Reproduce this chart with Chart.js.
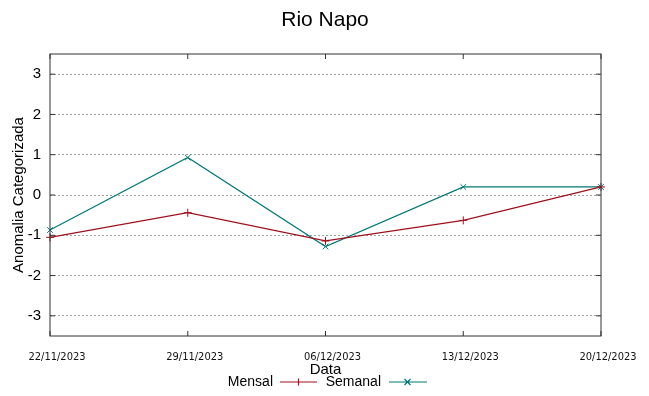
<!DOCTYPE html>
<html>
<head>
<meta charset="utf-8">
<script src="https://cdn.jsdelivr.net/npm/chart.js@4"></script>
<style>
  html, body { margin: 0; padding: 0; background: #fff; }
  #wrap { width: 649px; height: 396px; }
</style>
</head>
<body>
<div id="wrap"><canvas id="myChart"></canvas></div>
<script>
var labels = ['22/11/2023', '29/11/2023', '06/12/2023', '13/12/2023', '20/12/2023'];
var mensal = [-1.05, -0.44, -1.14, -0.63, 0.2];
var semanal = [-0.87, 0.93, -1.28, 0.2, 0.2];
var yTicks = [-3, -2, -1, 0, 1, 2, 3];

var RED = '#a0101c';
var TEAL = '#007878';
var FONT = "'Liberation Sans', Arial, sans-serif";
var NARROW = "'Liberation Sans Narrow', 'DejaVu Sans Condensed', sans-serif";

// titulo, moldura, marcas internas e legenda estilo gnuplot
var decor = {
  id: 'decor',
  afterDraw: function(chart) {
    var ctx = chart.ctx;
    var a = chart.chartArea;
    var xs = chart.scales.x, ys = chart.scales.y;
    ctx.save();
    ctx.fillStyle = '#000';
    ctx.font = '21px ' + FONT;
    ctx.textAlign = 'center';
    ctx.textBaseline = 'middle';
    ctx.fillText('Rio Napo', 325, 20);

    ctx.strokeStyle = '#333';
    ctx.lineWidth = 1;
    ctx.strokeRect(a.left, a.top, a.right - a.left, a.bottom - a.top);
    ctx.beginPath();
    for (var i = 0; i < labels.length; i++) {
      var px = xs.getPixelForValue(i);
      ctx.moveTo(px, a.bottom); ctx.lineTo(px, a.bottom - 5);
      ctx.moveTo(px, a.top); ctx.lineTo(px, a.top + 5);
    }
    yTicks.forEach(function(v) {
      var py = ys.getPixelForValue(v);
      ctx.moveTo(a.left, py); ctx.lineTo(a.left + 5, py);
      ctx.moveTo(a.right, py); ctx.lineTo(a.right - 5, py);
    });
    ctx.stroke();

    // legenda
    var ly = 382;
    ctx.font = '14px ' + FONT;
    ctx.textAlign = 'right';
    ctx.fillStyle = '#000';
    ctx.fillText('Mensal', 273, ly);
    ctx.fillText('Semanal', 381, ly);
    ctx.lineWidth = 1.2;
    ctx.strokeStyle = RED;
    ctx.beginPath();
    ctx.moveTo(280, ly); ctx.lineTo(317, ly);
    ctx.moveTo(298.5, ly - 3.5); ctx.lineTo(298.5, ly + 3.5);
    ctx.moveTo(295, ly); ctx.lineTo(302, ly);
    ctx.stroke();
    ctx.strokeStyle = TEAL;
    ctx.beginPath();
    ctx.moveTo(389, ly); ctx.lineTo(427, ly);
    ctx.moveTo(404.5, ly - 3); ctx.lineTo(410.5, ly + 3);
    ctx.moveTo(404.5, ly + 3); ctx.lineTo(410.5, ly - 3);
    ctx.stroke();
    ctx.restore();
  }
};

new Chart(document.getElementById('myChart'), {
  type: 'line',
  data: {
    labels: labels,
    datasets: [{
      label: 'Mensal',
      data: mensal,
      borderColor: RED,
      backgroundColor: RED,
      borderWidth: 1.2,
      pointStyle: 'cross',
      pointRadius: 4,
      pointBorderWidth: 1,
      tension: 0,
      fill: false,
      clip: false
    }, {
      label: 'Semanal',
      data: semanal,
      borderColor: TEAL,
      backgroundColor: TEAL,
      borderWidth: 1.2,
      pointStyle: 'crossRot',
      pointRadius: 4,
      pointBorderWidth: 1,
      tension: 0,
      fill: false,
      clip: false
    }]
  },
  options: {
    responsive: true,
    maintainAspectRatio: false,
    animation: false,
    layout: { padding: { top: 54, right: 48, left: 0, bottom: 0 } },
    plugins: {
      legend: { display: false },
      title: { display: false },
      tooltip: { enabled: false }
    },
    scales: {
      x: {
        type: 'category',
        offset: false,
        afterFit: function(s) { s.height = 60; },
        grid: { display: false, drawTicks: false },
        border: { display: false },
        ticks: {
          autoSkip: false, maxRotation: 0, padding: 15, labelOffset: 7,
          color: '#111', font: { family: NARROW, size: 11 }
        },
        title: {
          display: true, text: 'Data', color: '#000',
          font: { family: FONT, size: 15 },
          padding: { top: 0, bottom: 17 }
        }
      },
      y: {
        min: -3.5, max: 3.5,
        afterFit: function(s) { s.width = 50; },
        afterBuildTicks: function(s) {
          s.ticks = yTicks.map(function(v) { return { value: v }; });
        },
        grid: { color: '#a0a0a0', lineWidth: 1, drawTicks: false },
        border: { display: false, dash: [2, 2] },
        ticks: {
          padding: 9, color: '#000',
          font: { family: FONT, size: 15 }
        },
        title: {
          display: true, text: 'Anomalia Categorizada', color: '#000',
          font: { family: FONT, size: 15 },
          padding: { top: 10, bottom: 0 }
        }
      }
    }
  },
  plugins: [decor]
});
</script>
</body>
</html>
